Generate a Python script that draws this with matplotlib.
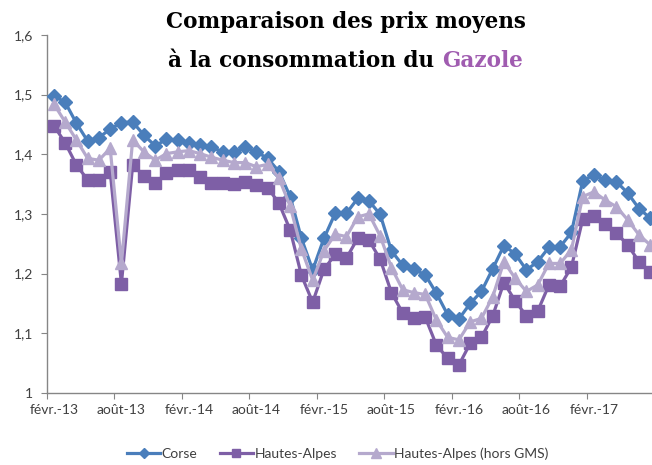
import matplotlib
matplotlib.use("Agg")
import matplotlib.pyplot as plt
import numpy as np

# Monthly values, Feb 2013 .. Jul 2017
corse = [1.498, 1.487, 1.452, 1.422, 1.428, 1.442, 1.453, 1.454, 1.432, 1.414,
         1.425, 1.423, 1.419, 1.415, 1.412, 1.404, 1.403, 1.412, 1.404, 1.393,
         1.371, 1.329, 1.259, 1.206, 1.259, 1.301, 1.301, 1.326, 1.322, 1.299,
         1.238, 1.214, 1.207, 1.198, 1.167, 1.131, 1.124, 1.150, 1.170, 1.208,
         1.247, 1.233, 1.206, 1.220, 1.244, 1.245, 1.269, 1.355, 1.366, 1.356,
         1.354, 1.335, 1.309, 1.293]
hautes_alpes = [1.448, 1.419, 1.382, 1.357, 1.356, 1.371, 1.183, 1.382, 1.364, 1.351,
                1.369, 1.374, 1.374, 1.362, 1.351, 1.351, 1.350, 1.353, 1.348, 1.344,
                1.318, 1.273, 1.197, 1.152, 1.207, 1.232, 1.226, 1.259, 1.256, 1.224,
                1.168, 1.134, 1.126, 1.127, 1.080, 1.058, 1.047, 1.083, 1.093, 1.129,
                1.185, 1.154, 1.129, 1.137, 1.181, 1.179, 1.211, 1.291, 1.297, 1.283,
                1.268, 1.248, 1.220, 1.202]
hautes_alpes_hors_gms = [1.484, 1.454, 1.424, 1.393, 1.390, 1.410, 1.217, 1.424, 1.404, 1.390,
                         1.401, 1.404, 1.406, 1.401, 1.395, 1.390, 1.386, 1.386, 1.379, 1.383,
                         1.360, 1.313, 1.241, 1.189, 1.238, 1.266, 1.262, 1.295, 1.300, 1.263,
                         1.210, 1.173, 1.168, 1.165, 1.122, 1.093, 1.089, 1.119, 1.125, 1.161,
                         1.220, 1.192, 1.170, 1.181, 1.217, 1.217, 1.240, 1.329, 1.337, 1.323,
                         1.312, 1.290, 1.265, 1.248]
tick_labels = ["févr.-13", "août-13", "févr.-14", "août-14", "févr.-15",
               "août-15", "févr.-16", "août-16", "févr.-17"]
y_ticks = [1.0, 1.1, 1.2, 1.3, 1.4, 1.5, 1.6]
y_tick_labels = ["1", "1,1", "1,2", "1,3", "1,4", "1,5", "1,6"]

months = np.arange(len(corse))

fig = plt.figure(figsize=(6.52, 4.65), dpi=100)
ax = fig.add_axes([0.072, 0.155, 0.928, 0.770])

c_blue = "#4A7EBB"
c_purple = "#7E5FA6"
c_lav = "#B5A9CD"

ax.plot(months, corse, color=c_blue, lw=2.3, marker="D", ms=6.8,
        label="Corse", zorder=3)
ax.plot(months, hautes_alpes, color=c_purple, lw=2.3, marker="s", ms=8,
        label="Hautes-Alpes", zorder=4)
ax.plot(months, hautes_alpes_hors_gms, color=c_lav, lw=2.3, marker="^", ms=8.5,
        label="Hautes-Alpes (hors GMS)", zorder=5)

ax.set_xlim(-0.62, 53.16)
ax.set_ylim(1.0, 1.6)

# tick marks at period boundaries, labels centred on the months
ax.set_xticks(np.arange(0, 49, 6) - 0.62)
ax.set_xticklabels([])
ax.set_xticks(np.arange(0, 49, 6), minor=True)
ax.set_xticklabels(tick_labels, minor=True)
ax.tick_params(axis="x", which="major", length=4, color="#868686")
ax.tick_params(axis="x", which="minor", length=0, pad=8)

ax.set_yticks(y_ticks)
ax.set_yticklabels(y_tick_labels)
ax.tick_params(axis="y", length=4, color="#868686", pad=6)

for lab in ax.get_xticklabels(minor=True) + ax.get_yticklabels():
    lab.set_fontfamily("Lato")
    lab.set_fontsize(10)
    lab.set_color("#404040")

for s in ["top", "right"]:
    ax.spines[s].set_visible(False)
for s in ["left", "bottom"]:
    ax.spines[s].set_color("#868686")
    ax.spines[s].set_linewidth(1.0)

# Title
TFS = 15.5
fig.text(0.53, 0.952, "Comparaison des prix moyens", ha="center", va="center",
         fontfamily="DejaVu Serif", fontweight="bold", fontsize=TFS, color="black")
y2 = 0.868
t1 = fig.text(0.0, y2, "à la consommation du ", ha="left", va="center",
              fontfamily="DejaVu Serif", fontweight="bold", fontsize=TFS, color="black")
fig.canvas.draw()
bb = t1.get_window_extent()
full = fig.text(0, 0, "à la consommation du Gazole", fontfamily="DejaVu Serif",
                fontweight="bold", fontsize=TFS)
fw = full.get_window_extent().width
full.remove()
x_left = 0.53 * fig.bbox.width - fw / 2
t1.set_position((x_left / fig.bbox.width, y2))
fig.text((x_left + bb.width) / fig.bbox.width, y2, "Gazole", ha="left", va="center",
         fontfamily="DejaVu Serif", fontweight="bold", fontsize=TFS, color="#A05CB0")

leg = fig.legend(loc="center", bbox_to_anchor=(0.518, 0.024), ncol=3, frameon=False,
                 prop={"family": "Lato", "size": 10}, handlelength=2.4,
                 columnspacing=1.6, handletextpad=0.1, markerscale=0.8,
                 borderpad=0.1)
for t in leg.get_texts():
    t.set_color("#404040")

fig.savefig("out.png", dpi=100)
